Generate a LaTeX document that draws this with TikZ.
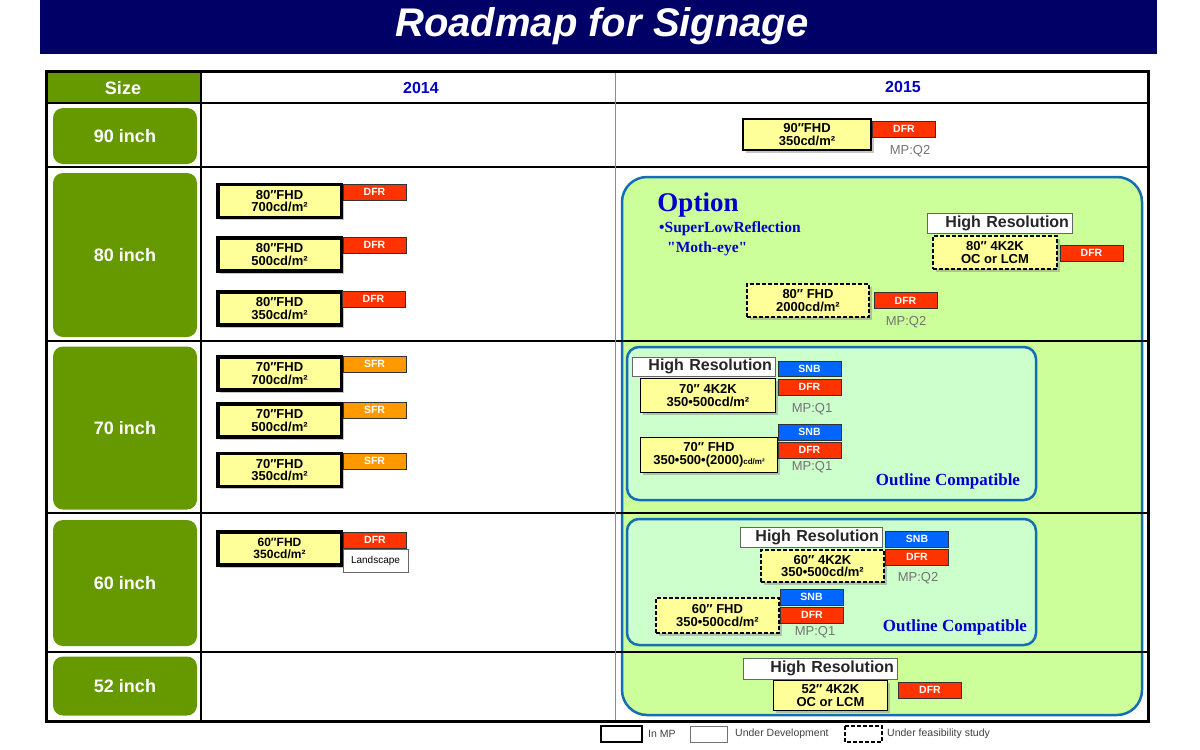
\documentclass[tikz,border=0pt]{standalone}
\usepackage{fontspec}
\setmainfont{Liberation Sans}
\newfontfamily\tnr{Liberation Serif}
\usetikzlibrary{shadows}

\definecolor{navy}{RGB}{0,0,102}
\definecolor{sizegreen}{RGB}{102,153,0}
\definecolor{optgreen}{RGB}{204,255,153}
\definecolor{outlgreen}{RGB}{204,255,204}
\definecolor{optblue}{RGB}{20,110,180}
\definecolor{prodyellow}{RGB}{255,255,153}
\definecolor{dfrred}{RGB}{255,51,0}
\definecolor{sfrorange}{RGB}{255,153,0}
\definecolor{snbblue}{RGB}{0,102,255}
\definecolor{yearblue}{RGB}{0,0,204}

\tikzset{
  sizebox/.style={fill=sizegreen, rounded corners=10pt, text=white, font=\bfseries\fontsize{18}{18}\selectfont, minimum width=144pt, inner sep=0pt},
  prod/.style={draw, fill=prodyellow, align=center, inner sep=0pt, font=\bfseries\fontsize{13}{12.5}\selectfont, drop shadow={shadow xshift=2.5pt, shadow yshift=-2.5pt, fill=black!45}},
  inmp/.style={prod, line width=3.5pt, minimum width=123.5pt, minimum height=33pt},
  undev/.style={prod, line width=1pt},
  feas/.style={prod, line width=1.8pt, dash pattern=on 4pt off 2pt},
  tag/.style={draw=black!80, line width=0.6pt, text=white, font=\bfseries\fontsize{10.5}{10.5}\selectfont, minimum width=63pt, minimum height=16pt, inner sep=0pt},
  dfr/.style={tag, fill=dfrred},
  sfr/.style={tag, fill=sfrorange},
  snb/.style={tag, fill=snbblue},
  hires/.style={draw=black!60, fill=white, text=black!85, font=\bfseries\fontsize{16}{16}\selectfont, inner xsep=3pt, inner ysep=0pt, align=right, minimum height=20pt},
  mpq/.style={text=black!55, font=\fontsize{13}{13}\selectfont, inner sep=0pt},
  outl/.style={text=yearblue, font=\tnr\bfseries\fontsize{17}{17}\selectfont, inner sep=0pt},
  legtxt/.style={text=black!75, font=\fontsize{10.5}{10.5}\selectfont, anchor=west, inner sep=0pt}
}

\begin{document}
\begin{tikzpicture}[x=1pt, y=-1pt]
	\useasboundingbox (0,0) rectangle (1200,750);
	
	\fill[navy] (40,0) rectangle (1157,54);
	\node[text=white, font=\bfseries\itshape\fontsize{40}{40}\selectfont] (title) at (602,26) {Roadmap for Signage};
	
	\fill[sizegreen] (46,71) rectangle (201,103);
	\draw[optblue, line width=2.5pt, fill=optgreen, rounded corners=25pt] (622,177) rectangle (1142,715);
	
	\draw[line width=2.5pt] (46,103)--(1148,103);
	\draw[line width=2.5pt] (46,167)--(1148,167);
	\draw[line width=2.5pt] (46,341)--(1148,341);
	\draw[line width=2.5pt] (46,513)--(1148,513);
	\draw[line width=2.5pt] (46,652)--(1148,652);
	\draw[line width=1.5pt] (201,71)--(201,721);
	\draw[black!45, line width=1pt] (615,71)--(615,721);
	\draw[line width=3pt] (46,71) rectangle (1148,721);
	
	\node[text=white, font=\bfseries\fontsize{18}{18}\selectfont] (hsize) at (123,88) {Size};
	\node[text=yearblue, font=\bfseries\fontsize{16}{16}\selectfont] (h14) at (421,88) {2014};
	\node[text=yearblue, font=\bfseries\fontsize{16}{16}\selectfont] (h15) at (903,87) {2015};
	
	\node[sizebox, minimum height=56pt] (s90) at (125,136) {90 inch};
	\node[sizebox, minimum height=164pt] (s80) at (125,255) {80 inch};
	\node[sizebox, minimum height=163pt] (s70) at (125,428) {70 inch};
	\node[sizebox, minimum height=126pt] (s60) at (125,583) {60 inch};
	\node[sizebox, minimum height=59pt] (s52) at (125,686) {52 inch};
	
	\node[inmp] (f80a) at (279.5,201) {80″FHD\\700cd/m²};
	\node[dfr] (d80a) at (374.5,192) {DFR};
	\node[inmp] (f80b) at (279.5,254.5) {80″FHD\\500cd/m²};
	\node[dfr] (d80b) at (374.5,245) {DFR};
	\node[inmp] (f80c) at (279.5,308.5) {80″FHD\\350cd/m²};
	\node[dfr] (d80c) at (373.5,299) {DFR};
	\node[inmp] (f70a) at (279.5,373.5) {70″FHD\\700cd/m²};
	\node[sfr] (s70a) at (374.5,364) {SFR};
	\node[inmp] (f70b) at (279.5,420.5) {70″FHD\\500cd/m²};
	\node[sfr] (s70b) at (374.5,410) {SFR};
	\node[inmp] (f70c) at (279.5,470) {70″FHD\\350cd/m²};
	\node[sfr] (s70c) at (374.5,461) {SFR};
	\node[inmp, font=\bfseries\fontsize{12}{11.5}\selectfont] (f60) at (279.5,548.5) {60″FHD\\350cd/m²};
	\node[dfr] (d60) at (375,540) {DFR};
	\node[draw=black!60, fill=white, minimum width=65pt, minimum height=23pt, inner sep=0pt, font=\fontsize{10}{10}\selectfont] (land) at (375.5,560.5) {Landscape};
	
	\node[undev, line width=1.8pt, minimum width=128pt, minimum height=31pt] (f90) at (807,134.5) {90″FHD\\350cd/m²};
	\node[dfr] (d90) at (904,129) {DFR};
	\node[mpq] (m90) at (910,151) {MP:Q2};
	
	\node[text=yearblue, font=\tnr\bfseries\fontsize{27}{27}\selectfont] (opt) at (698,205) {Option};
	\node[text=yearblue, font=\tnr\bfseries\fontsize{15.5}{15.5}\selectfont, anchor=west, inner sep=0pt] (slr) at (659,229) {•SuperLowReflection};
	\node[text=yearblue, font=\tnr\bfseries\fontsize{15.5}{15.5}\selectfont, anchor=west, inner sep=0pt] (moth) at (667,249) {"Moth-eye"};
	
	\node[hires, text width=139pt] (hr80) at (999.5,223.5) {High Resolution};
	\node[feas, minimum width=124pt, minimum height=33pt] (k80) at (995,252.5) {80″ 4K2K\\OC or LCM};
	\node[dfr] (d80k) at (1091.5,253) {DFR};
	\node[feas, minimum width=122pt, minimum height=33pt] (f80x) at (808,300.5) {80″ FHD\\2000cd/m²};
	\node[dfr] (d80x) at (905.5,300.5) {DFR};
	\node[mpq] (m80x) at (906,322) {MP:Q2};
	
	\draw[optblue, line width=2.5pt, fill=outlgreen, rounded corners=12pt] (627,347) rectangle (1036,500);
	\node[hires, text width=137pt, minimum height=19pt] (hr70) at (703.5,366.5) {High Resolution};
	\node[undev, minimum width=135pt, minimum height=34pt] (k70) at (708,395.5) {70″ 4K2K\\350•500cd/m²};
	\node[snb, minimum height=15pt] (n70k) at (809.5,368.5) {SNB};
	\node[dfr] (d70k) at (809.5,387) {DFR};
	\node[mpq] (m70k) at (812,409) {MP:Q1};
	\node[undev, minimum width=137pt, minimum height=35pt] (f70x) at (709,455) {70″ FHD\\350•500•(2000){\fontsize{8}{8}\selectfont cd/m²}};
	\node[snb] (n70x) at (809.5,432) {SNB};
	\node[dfr] (d70x) at (809.5,450) {DFR};
	\node[mpq] (m70x) at (812,467) {MP:Q1};
	\node[outl] (oc70) at (948,481) {Outline Compatible};
	
	\draw[optblue, line width=2.5pt, fill=outlgreen, rounded corners=12pt] (627,519) rectangle (1036,645);
	\node[hires, text width=136pt] (hr60) at (811,537) {High Resolution};
	\node[feas, minimum width=123pt, minimum height=32pt] (k60) at (822.5,566) {60″ 4K2K\\350•500cd/m²};
	\node[snb] (n60k) at (917,539) {SNB};
	\node[dfr] (d60k) at (917,557) {DFR};
	\node[mpq] (m60k) at (918,578) {MP:Q2};
	\node[feas, minimum width=123pt, minimum height=35pt] (f60x) at (717.5,615.5) {60″ FHD\\350•500cd/m²};
	\node[snb] (n60x) at (811.5,597) {SNB};
	\node[dfr] (d60x) at (812,615) {DFR};
	\node[mpq] (m60x) at (815,632) {MP:Q1};
	\node[outl] (oc60) at (955,627) {Outline Compatible};
	
	\node[hires, text width=148pt, minimum height=21pt] (hr52) at (820,668.5) {High Resolution};
	\node[undev, minimum width=114pt, minimum height=30pt] (k52) at (830.5,695.5) {52″ 4K2K\\OC or LCM};
	\node[dfr] (d52) at (930,690) {DFR};
	
	\draw[line width=2.5pt] (601,726) rectangle (642,742);
	\node[legtxt] (lmp) at (648,734) {In MP};
	\draw[black!55, line width=0.8pt] (690,726) rectangle (727,742);
	\node[legtxt] (ldev) at (735,734) {Under Development};
	\draw[line width=1.2pt, dash pattern=on 4pt off 2pt] (845,726) rectangle (882,742);
	\node[legtxt] (lfeas) at (887,734) {Under feasibility study};
\end{tikzpicture}
\end{document}
